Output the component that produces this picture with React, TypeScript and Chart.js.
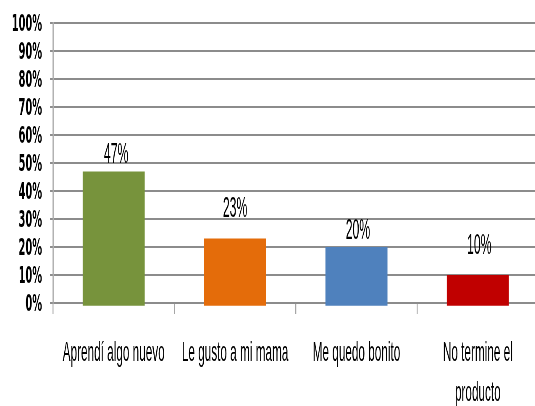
import React, { useEffect, useRef } from "react";
import { Chart, registerables } from "chart.js";

Chart.register(...registerables);

const categories: string[][] = [
  ["Aprendí algo nuevo"],
  ["Le gusto a mi mama"],
  ["Me quedo bonito"],
  ["No termine el", "producto"],
];
const values: number[] = [47, 23, 20, 10];
const valueLabels: string[] = ["47%", "23%", "20%", "10%"];
const yMin = 0;
const yMax = 100;
const yStep = 10;

const barColors = ["#77933C", "#E46C0A", "#4F81BD", "#C00000"];
const REG = "'Liberation Sans', Arial, sans-serif";
const BOLD = "'DejaVu Sans', 'Liberation Sans', sans-serif";

// whole chart is drawn wider, then squeezed horizontally (like the reference image)
const S = 0.42;
const CW = 1286;
const CH = 406;
const px = (v: number) => v / S; // 1x horizontal px -> logical px

const valueLabelPlugin = {
  id: "valueLabels",
  afterDatasetsDraw(chart: any, _args: any, opts: any) {
    const ctx = chart.ctx;
    const meta = chart.getDatasetMeta(0);
    ctx.save();
    ctx.font = `normal 29px ${REG}`;
    ctx.fillStyle = "#000";
    ctx.textAlign = "center";
    ctx.textBaseline = "alphabetic";
    meta.data.forEach((bar: any, i: number) => {
      const gap = (opts.gaps && opts.gaps[i]) || 8;
      const dx = opts.dx ? px(opts.dx[i]) : 0;
      ctx.fillText(valueLabels[i], bar.x + dx, bar.y - gap);
    });
    ctx.restore();
  },
};

export default function App() {
  const ref = useRef<HTMLCanvasElement | null>(null);

  useEffect(() => {
    document.body.style.margin = "0";
    const canvas = ref.current!;
    const chart = new Chart(canvas, {
      type: "bar",
      data: {
        labels: categories,
        datasets: [
          {
            data: values,
            backgroundColor: barColors,
            borderWidth: 0,
            base: -1,
            clip: false as any,
            barPercentage: 0.511,
            categoryPercentage: 1,
          },
        ],
      },
      plugins: [valueLabelPlugin],
      options: {
        animation: false,
        responsive: false,
        devicePixelRatio: 1,
        events: [],
        layout: { padding: { top: 23, right: px(1.6), left: 0, bottom: 0 } },
        plugins: {
          legend: { display: false },
          tooltip: { enabled: false },
          valueLabels: { gaps: [8, 22, 8, 21], dx: [2.5, 0, 1.5, 1.5] },
        } as any,
        scales: {
          x: {
            z: 1,
            grid: {
              display: true,
              drawOnChartArea: false,
              drawTicks: true,
              tickLength: 11,
              color: "#a6a6a6",
              lineWidth: px(1),
            },
            border: { display: true, color: "#8c8c8c", width: 2 },
            ticks: {
              autoSkip: false,
              maxRotation: 0,
              minRotation: 0,
              padding: 19,
              color: "#000",
              font: { family: REG, size: 28, lineHeight: 1.43 },
            },
            afterFit(scale: any) {
              scale.height = 103;
              scale.paddingLeft = 0;
              scale.paddingRight = 0;
            },
          },
          y: {
            min: yMin,
            max: yMax,
            grid: {
              color: "#8c8c8c",
              lineWidth: 2,
              tickLength: px(3),
            },
            border: { display: true, color: "#a6a6a6", width: px(1.2) },
            ticks: {
              autoSkip: false,
              stepSize: yStep,
              padding: px(8),
              labelOffset: 2,
              color: "#000",
              font: { family: BOLD, size: 23.3, weight: "bold" },
              callback: (v: any) => `${v}%`,
            },
            afterFit(scale: any) {
              scale.width = px(53);
              scale.paddingTop = 0;
              scale.paddingBottom = 0;
            },
          },
        },
      },
    });
    return () => chart.destroy();
  }, []);

  return (
    <div
      style={{
        position: "fixed",
        left: 0,
        top: 0,
        width: 535,
        height: CH,
        overflow: "hidden",
        background: "#fff",
      }}
    >
      <div
        style={{
          width: CW,
          height: CH,
          transform: `scaleX(${S})`,
          transformOrigin: "0 0",
        }}
      >
        <canvas ref={ref} width={CW} height={CH} style={{ width: CW, height: CH }} />
      </div>
    </div>
  );
}
